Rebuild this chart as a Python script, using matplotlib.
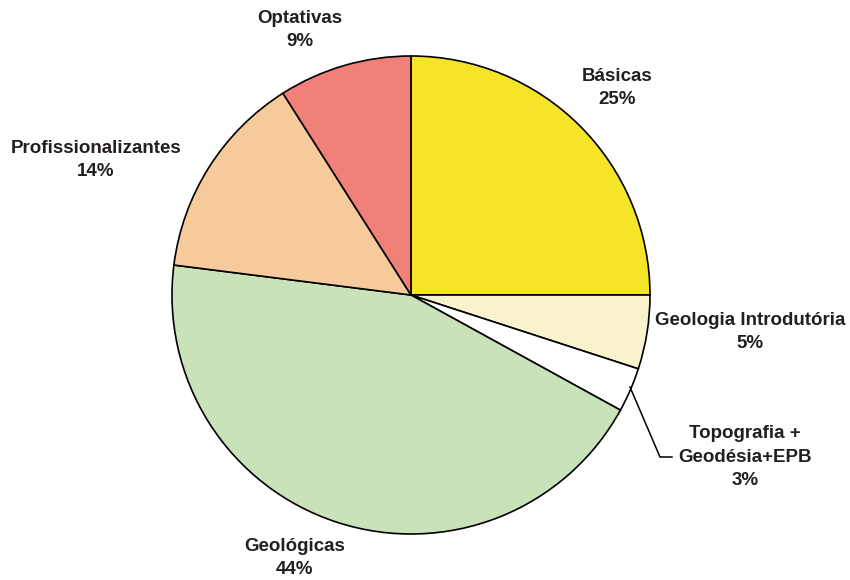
import matplotlib
matplotlib.use('Agg')
import matplotlib.pyplot as plt

# course load share by group of disciplines
labels = ['Básicas', 'Geologia Introdutória', 'Topografia +\nGeodésia+EPB',
          'Geológicas', 'Profissionalizantes', 'Optativas']
shares = [25, 5, 3, 44, 14, 9]
colors = ['#F5E428', '#F8F2CD', '#FFFFFF', '#C9E2BA', '#F6CA9B', '#F08078']

# label anchor points (figure pixels, y measured from top)
label_xy = [(617, 88), (750, 332), (745, 457), (295, 558), (96, 160), (300, 30)]

W, H = 850, 580
fig = plt.figure(figsize=(W / 100, H / 100), dpi=100)
ax = fig.add_axes([0, 0, 1, 1])

cx, cy, r = 411, H - 295, 239
ax.pie(shares, colors=colors, startangle=90, counterclock=False,
       center=(cx, cy), radius=r, frame=True,
       wedgeprops=dict(edgecolor='black', linewidth=1.2))
ax.set_xlim(0, W)
ax.set_ylim(0, H)
ax.set_aspect('equal')
ax.axis('off')

for lab, val, (x, y) in zip(labels, shares, label_xy):
    ax.text(x, H - y, f'{lab}\n{val}%', ha='center', va='center',
            fontsize=13.5, fontweight='bold', family='Liberation Sans',
            color='#231F20', linespacing=1.5)

# leader line for the small slice
ax.plot([630, 660, 672], [H - 387, H - 457, H - 457], color='black', lw=1.1)

fig.savefig('out.png', dpi=100)
